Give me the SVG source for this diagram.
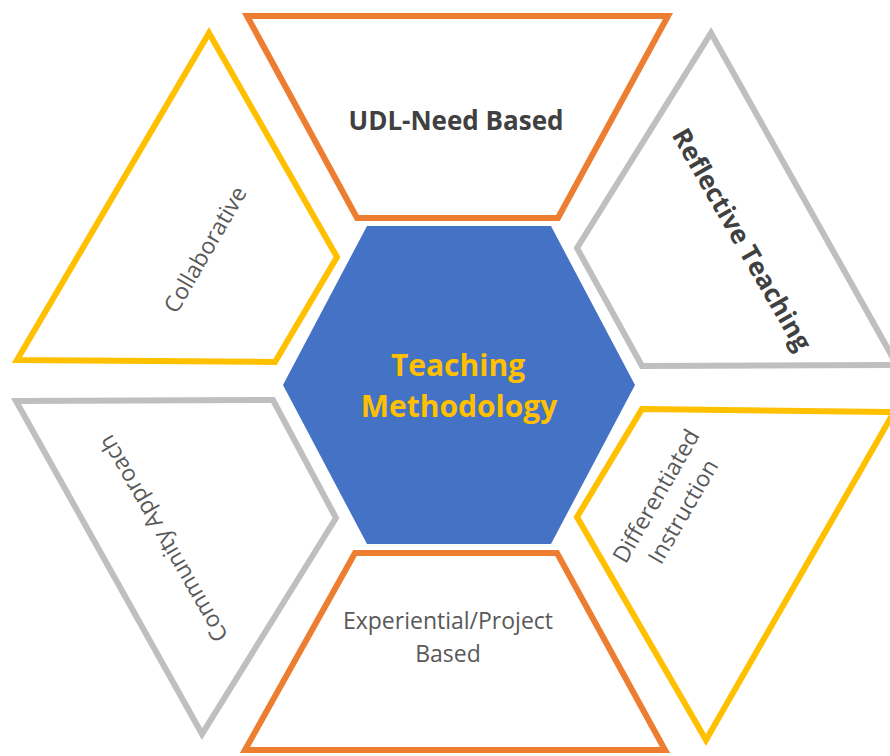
<svg xmlns="http://www.w3.org/2000/svg" width="890" height="756" viewBox="0 0 890 756">
<style>
.shape{fill:#FFFFFF;stroke-width:6;stroke-linejoin:miter}
.orange{stroke:#ED7D31}
.yellow{stroke:#FFC000}
.gray{stroke:#BFBFBF}
.lbl{font-family:"Open Sans","Liberation Sans",sans-serif;font-size:23px;fill:#595959;text-anchor:middle}
.bold{font-weight:bold;font-size:26px;fill:#404040}
.center{font-family:"Open Sans","Liberation Sans",sans-serif;font-size:30px;font-weight:bold;fill:#FFC000;text-anchor:middle}
</style>
<rect width="890" height="756" fill="#FFFFFF"/>
<g id="connectors"></g>
<g id="node-center">
<polygon points="367,226 551,226 635,385 551,544 367,544 283,385" fill="#4472C4"/>
<text class="center" x="458" y="376">Teaching</text>
<text class="center" x="459" y="417">Methodology</text>
</g>
<g id="node-udl">
<polygon class="shape orange" points="247,16 668,16 558,218 357,218"/>
<text class="lbl bold" x="456" y="130">UDL-Need Based</text>
</g>
<g id="node-experiential">
<polygon class="shape orange" points="355,553 557,553 665,750 245,750"/>
<text class="lbl" x="448" y="629">Experiential/Project</text>
<text class="lbl" x="448" y="662">Based</text>
</g>
<g id="node-collaborative">
<polygon class="shape yellow" points="209,33 337,257 275,362 17,360"/>
<text class="lbl" transform="translate(206,250) rotate(-60)" y="7">Collaborative</text>
</g>
<g id="node-reflective">
<polygon class="shape gray" points="711,33 897,365 642,366 577,248"/>
<text class="lbl bold" transform="translate(741,240) rotate(60)" y="8">Reflective Teaching</text>
</g>
<g id="node-community">
<polygon class="shape gray" points="16,401 273,400 336,518 202,734"/>
<text class="lbl" transform="translate(164,538) rotate(-120)" y="7">Community Approach</text>
</g>
<g id="node-differentiated">
<polygon class="shape yellow" points="642,409 894,412 706,740 577,517"/>
<text class="lbl" transform="translate(670,504) rotate(-60)" y="-8">Differentiated</text>
<text class="lbl" transform="translate(670,504) rotate(-60)" y="23">Instruction</text>
</g>
</svg>
